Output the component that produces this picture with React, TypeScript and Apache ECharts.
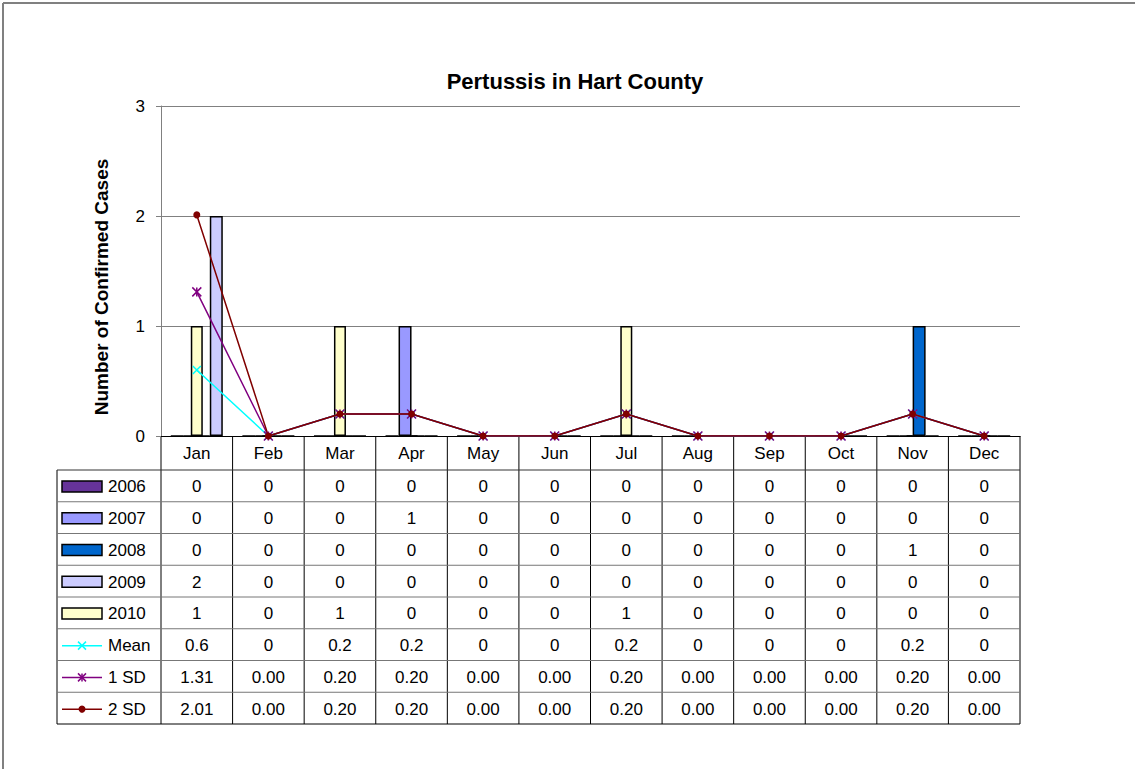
import React, { useEffect, useRef } from "react";
import * as echarts from "echarts";

const months = ["Jan", "Feb", "Mar", "Apr", "May", "Jun", "Jul", "Aug", "Sep", "Oct", "Nov", "Dec"];
const y2006 = [0, 0, 0, 0, 0, 0, 0, 0, 0, 0, 0, 0];
const y2007 = [0, 0, 0, 1, 0, 0, 0, 0, 0, 0, 0, 0];
const y2008 = [0, 0, 0, 0, 0, 0, 0, 0, 0, 0, 1, 0];
const y2009 = [2, 0, 0, 0, 0, 0, 0, 0, 0, 0, 0, 0];
const y2010 = [1, 0, 1, 0, 0, 0, 1, 0, 0, 0, 0, 0];
const meanVals = [0.6, 0, 0.2, 0.2, 0, 0, 0.2, 0, 0, 0, 0.2, 0];
const sd1Vals = [1.31, 0, 0.2, 0.2, 0, 0, 0.2, 0, 0, 0, 0.2, 0];
const sd2Vals = [2.01, 0, 0.2, 0.2, 0, 0, 0.2, 0, 0, 0, 0.2, 0];
const yTicks = [0, 1, 2, 3];

const FONT = "'Liberation Sans', Arial, sans-serif";

const GRID_L = 161;
const GRID_R = 1020;
const GRID_T = 106;
const GRID_B = 436;
const TABLE_L = 57;
const HEADER_B = 470;
const ROW_H = 31.75;

const X_PATH = "path://M0,0L10,10M10,0L0,10";
const STAR_PATH = "path://M0,0L10,10M10,0L0,10M5,0L5,10";

export default function App() {
  const ref = useRef<HTMLDivElement>(null);
  useEffect(() => {
    if (!ref.current) return;
    const chart = echarts.init(ref.current, undefined, { renderer: "svg" });

    const rows = [
      { name: "2006", kind: "bar", color: "#663399", vals: y2006, fmt: (v: number) => String(v) },
      { name: "2007", kind: "bar", color: "#9999FF", vals: y2007, fmt: (v: number) => String(v) },
      { name: "2008", kind: "bar", color: "#0066CC", vals: y2008, fmt: (v: number) => String(v) },
      { name: "2009", kind: "bar", color: "#CCCCFF", vals: y2009, fmt: (v: number) => String(v) },
      { name: "2010", kind: "bar", color: "#FFFFCC", vals: y2010, fmt: (v: number) => String(v) },
      { name: "Mean", kind: "x", color: "#00FFFF", vals: meanVals, fmt: (v: number) => String(v) },
      { name: "1 SD", kind: "star", color: "#800080", vals: sd1Vals, fmt: (v: number) => v.toFixed(2) },
      { name: "2 SD", kind: "circle", color: "#800000", vals: sd2Vals, fmt: (v: number) => v.toFixed(2) },
    ];

    const cellW = (GRID_R - GRID_L) / months.length;
    const tableB = HEADER_B + ROW_H * rows.length;
    const g: any[] = [];

    // outer frame
    g.push({ type: "line", shape: { x1: 3, y1: 3, x2: 1135, y2: 3 }, style: { stroke: "#808080", lineWidth: 2 } });
    g.push({ type: "line", shape: { x1: 3, y1: 3, x2: 3, y2: 769 }, style: { stroke: "#808080", lineWidth: 2 } });

    // title
    g.push({
      type: "text", x: 575, y: 81,
      style: { text: "Pertussis in Hart County", font: `bold 22px ${FONT}`, fill: "#000", textAlign: "center", textVerticalAlign: "middle" },
    });
    // y axis name
    g.push({
      type: "text", x: 101, y: 287, rotation: Math.PI / 2,
      style: { text: "Number of Confirmed Cases", font: `bold 19px ${FONT}`, fill: "#000", textAlign: "center", textVerticalAlign: "middle" },
    });

    // table lines
    for (let k = 0; k <= months.length; k++) {
      const x = GRID_L + k * cellW;
      g.push({ type: "line", shape: { x1: x, y1: GRID_B, x2: x, y2: tableB }, style: { stroke: "#000", lineWidth: 1 } });
    }
    g.push({ type: "line", shape: { x1: TABLE_L, y1: HEADER_B, x2: TABLE_L, y2: tableB }, style: { stroke: "#000", lineWidth: 1 } });
    g.push({ type: "line", shape: { x1: TABLE_L, y1: HEADER_B, x2: GRID_R, y2: HEADER_B }, style: { stroke: "#333", lineWidth: 1 } });
    for (let r = 1; r < rows.length; r++) {
      const y = HEADER_B + r * ROW_H;
      g.push({ type: "line", shape: { x1: TABLE_L, y1: y, x2: GRID_R, y2: y }, style: { stroke: "#777", lineWidth: 1 } });
    }
    g.push({ type: "line", shape: { x1: TABLE_L, y1: tableB, x2: GRID_R, y2: tableB }, style: { stroke: "#000", lineWidth: 1 } });

    rows.forEach((row, r) => {
      const cy = HEADER_B + (r + 0.5) * ROW_H + 1;
      // legend key
      if (row.kind === "bar") {
        g.push({ type: "rect", shape: { x: 62, y: cy - 6, width: 40, height: 11 }, style: { fill: row.color, stroke: "#000", lineWidth: 1.5 } });
      } else {
        g.push({ type: "line", shape: { x1: 62, y1: cy, x2: 102, y2: cy }, style: { stroke: row.color, lineWidth: 1.5 } });
        const mx = 82;
        if (row.kind === "circle") {
          g.push({ type: "circle", shape: { cx: mx, cy, r: 3.5 }, style: { fill: row.color } });
        } else {
          g.push({ type: "line", shape: { x1: mx - 4, y1: cy - 4, x2: mx + 4, y2: cy + 4 }, style: { stroke: row.color, lineWidth: 1.5 } });
          g.push({ type: "line", shape: { x1: mx + 4, y1: cy - 4, x2: mx - 4, y2: cy + 4 }, style: { stroke: row.color, lineWidth: 1.5 } });
          if (row.kind === "star") {
            g.push({ type: "line", shape: { x1: mx, y1: cy - 4, x2: mx, y2: cy + 4 }, style: { stroke: row.color, lineWidth: 1.5 } });
          }
        }
      }
      g.push({
        type: "text", x: 108, y: cy,
        style: { text: row.name, font: `17px ${FONT}`, fill: "#000", textAlign: "left", textVerticalAlign: "middle" },
      });
      row.vals.forEach((v, i) => {
        g.push({
          type: "text", x: GRID_L + (i + 0.5) * cellW, y: cy,
          style: { text: row.fmt(v), font: `17px ${FONT}`, fill: "#000", textAlign: "center", textVerticalAlign: "middle" },
        });
      });
    });

    const barSeries = rows.slice(0, 4).map((row) => ({
      name: row.name,
      type: "bar",
      xAxisIndex: 0,
      data: row.vals,
      barWidth: 13,
      barGap: "0%",
      itemStyle: { color: row.color, borderColor: "#000", borderWidth: 1.5 },
      z: 2,
    }));

    const lineCommon = (color: string) => ({
      type: "line",
      xAxisIndex: 0,
      lineStyle: { color, width: 1.5 },
      itemStyle: { color, borderColor: color, borderWidth: 1.5 },
      z: 4,
    });

    chart.setOption({
      animation: false,
      backgroundColor: "#fff",
      grid: { left: GRID_L, top: GRID_T, width: GRID_R - GRID_L, height: GRID_B - GRID_T, containLabel: false },
      xAxis: [
        {
          type: "category",
          data: months,
          axisLine: { show: true, lineStyle: { color: "#000", width: 1 } },
          axisTick: { show: false },
          axisLabel: { fontSize: 17, fontFamily: FONT, color: "#000", margin: 9 },
          splitLine: { show: false },
        },
        {
          type: "category",
          data: months,
          show: false,
          position: "bottom",
        },
      ],
      yAxis: {
        type: "value",
        min: 0,
        max: 3,
        interval: 1,
        axisLine: { show: true, lineStyle: { color: "#808080", width: 1 } },
        axisTick: { show: true, length: 5, lineStyle: { color: "#808080" } },
        axisLabel: {
          fontSize: 17, fontFamily: FONT, color: "#000", margin: 16,
          formatter: (v: number) => (yTicks.includes(v) ? String(v) : ""),
        },
        splitLine: { show: true, lineStyle: { color: "#808080", width: 1 } },
      },
      series: [
        ...barSeries,
        {
          name: "2010",
          type: "bar",
          xAxisIndex: 1,
          data: y2010,
          barWidth: 12,
          itemStyle: { color: "#FFFFCC", borderColor: "#000", borderWidth: 1.5 },
          z: 3,
        },
        { name: "Mean", data: meanVals, symbol: X_PATH, symbolSize: 8, ...lineCommon("#00FFFF") },
        { name: "1 SD", data: sd1Vals, symbol: STAR_PATH, symbolSize: 9, ...lineCommon("#800080") },
        { name: "2 SD", data: sd2Vals, symbol: "circle", symbolSize: 7, ...lineCommon("#800000"), itemStyle: { color: "#800000", borderColor: "#800000", borderWidth: 0 } },
      ],
      graphic: g,
    });

    return () => chart.dispose();
  }, []);

  return <div ref={ref} style={{ position: "fixed", left: 0, top: 0, width: 1135, height: 769, background: "#fff" }} />;
}
